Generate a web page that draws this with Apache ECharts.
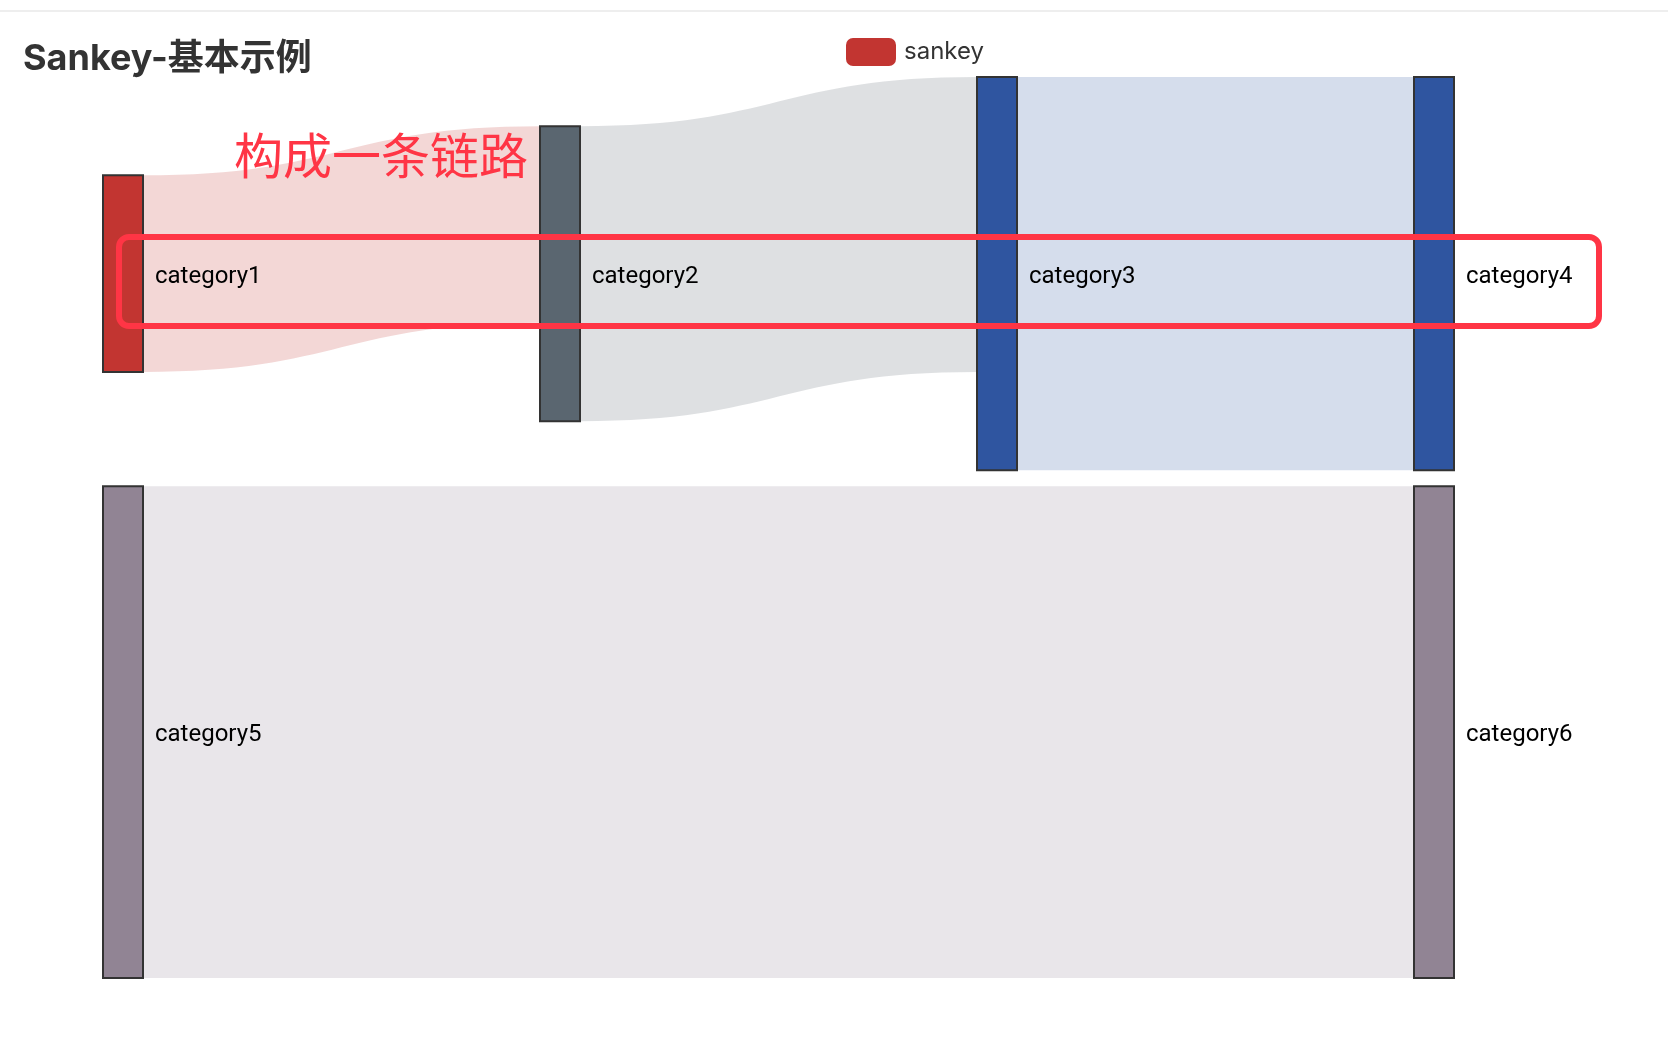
<!DOCTYPE html>
<html>
<head>
<meta charset="utf-8">
<title>Sankey-基本示例</title>
<script src="https://cdn.jsdelivr.net/npm/echarts@6/dist/echarts.min.js"></script>
<style>
  html, body { margin: 0; padding: 0; background: #fff; }
  #chart { width: 1668px; height: 1048px; }
</style>
</head>
<body>
<div id="chart"></div>
<script>
// nodes and their colours
const nodeNames = ['category1', 'category2', 'category3', 'category4', 'category5', 'category6']
const nodeColors = ['#c23531', '#5a6670', '#2f55a0', '#2f55a0', '#918494', '#918494']
// links: source -> target, value
const linkSources = ['category1', 'category2', 'category3', 'category5']
const linkTargets = ['category2', 'category3', 'category4', 'category6']
const linkValues = [20, 30, 40, 50]

const fontFamily = 'Inter, "Noto Sans CJK SC", sans-serif'

const chart = echarts.init(document.getElementById('chart'))

const nodes = nodeNames.map((name, i) => ({
  name: name,
  itemStyle: { color: nodeColors[i] }
}))
const links = linkSources.map((s, i) => ({
  source: s,
  target: linkTargets[i],
  value: linkValues[i]
}))

chart.setOption({
  animation: false,
  title: {
    text: 'Sankey-基本示例',
    left: 23,
    top: 41,
    padding: 0,
    textStyle: {
      fontSize: 36,
      fontWeight: 'bold',
      color: '#333',
      fontFamily: fontFamily
    }
  },
  legend: {
    data: ['sankey'],
    left: 846,
    top: 38,
    padding: 0,
    icon: 'roundRect',
    itemWidth: 50,
    itemHeight: 28,
    itemGap: 12,
    itemStyle: { borderWidth: 0 },
    textStyle: { fontSize: 24, color: '#333', fontFamily: fontFamily, padding: [0, 0, 0, 3] }
  },
  series: [{
    name: 'sankey',
    type: 'sankey',
    left: 103,
    right: 214,
    top: 77,
    bottom: 70,
    nodeWidth: 40,
    nodeGap: 16,
    itemStyle: {
      color: '#c23531',
      borderColor: '#333',
      borderWidth: 2
    },
    lineStyle: {
      color: 'source',
      opacity: 0.2,
      curveness: 0.5
    },
    label: {
      position: 'right',
      distance: 10,
      offset: [1, 3],
      fontSize: 24,
      color: '#000',
      fontFamily: 'Roboto, sans-serif'
    },
    data: nodes,
    links: links
  }],
  graphic: [
    {
      type: 'line',
      shape: { x1: 0, y1: 11, x2: 1668, y2: 11 },
      style: { stroke: '#eeeeee', lineWidth: 2 }
    },
    {
      type: 'text',
      left: 234,
      top: 131,
      z: 100,
      style: {
        text: '构成一条链路',
        fill: '#ff3545',
        fontSize: 49,
        fontFamily: '"Noto Sans CJK SC", sans-serif'
      }
    },
    {
      type: 'rect',
      z: 100,
      shape: { x: 119, y: 237, width: 1480, height: 89, r: 10 },
      style: { fill: 'none', stroke: '#ff3545', lineWidth: 6 }
    }
  ]
})
</script>
</body>
</html>
